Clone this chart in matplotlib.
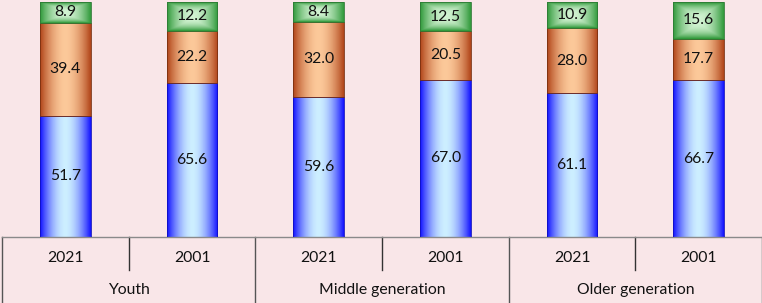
import numpy as np
import matplotlib
matplotlib.use("Agg")
import matplotlib.pyplot as plt
from matplotlib.colors import to_rgb
from matplotlib.transforms import blended_transform_factory

groups = ["Youth", "Middle generation", "Older generation"]
years = ["2021", "2001", "2021", "2001", "2021", "2001"]
blue_vals = [51.7, 65.6, 59.6, 67.0, 61.1, 66.7]
orange_vals = [39.4, 22.2, 32.0, 20.5, 28.0, 17.7]
green_vals = [8.9, 12.2, 8.4, 12.5, 10.9, 15.6]

bg = "#F9E6E8"
series = [
    (blue_vals, "#1414FF", "#CDEFFF", "#1010C0", False),
    (orange_vals, "#B2461A", "#FCC99A", "#7A3010", False),
    (green_vals, "#329A3C", "#D2F3D2", "#2E7A35", True),
]

fig = plt.figure(figsize=(7.62, 3.03), dpi=100, facecolor=bg)
ax = fig.add_axes([2 / 762, 66 / 303, 760 / 762, 235 / 303])
ax.set_facecolor(bg)

x = np.arange(len(years))
bottom = np.zeros(len(years))
width = 0.4
fs = 11.3


def grad_img(edge, center, vertical):
    n = 64
    t = np.abs(np.linspace(-1, 1, n))
    prof = t ** 1.8
    if vertical:
        ty = np.abs(np.linspace(-1, 1, 32))[:, None]
        prof2 = np.maximum(prof[None, :], ty ** 2.5)
    else:
        prof2 = np.tile(prof[None, :], (2, 1))
    e = np.array(to_rgb(edge))
    c = np.array(to_rgb(center))
    return c[None, None, :] * (1 - prof2[..., None]) + e[None, None, :] * prof2[..., None]


for vals, edge, center, line, vert in series:
    bars = ax.bar(x, vals, width, bottom=bottom, facecolor="none",
                  edgecolor=line, linewidth=0.6, zorder=3)
    img = grad_img(edge, center, vert)
    for b, v in zip(bars, vals):
        x0, y0 = b.get_x(), b.get_y()
        w, h = b.get_width(), b.get_height()
        ax.imshow(img, extent=[x0, x0 + w, y0, y0 + h], aspect="auto",
                  interpolation="bilinear", zorder=2)
        ax.text(x0 + w / 2, y0 + h / 2, f"{v:.1f}", ha="center", va="center",
                fontsize=fs, family="Lato", color="#111111", zorder=4)
    bottom = bottom + np.array(vals)

ax.set_xlim(-0.5, len(years) - 0.5)
ax.set_ylim(0, 100)
ax.set_xticks([])
ax.set_yticks([])
for s in ["top", "right", "left"]:
    ax.spines[s].set_visible(False)
ax.spines["bottom"].set_color("#8A8A8A")
ax.spines["bottom"].set_linewidth(1.0)

tr = blended_transform_factory(ax.transData, ax.transAxes)
for i, yl in enumerate(years):
    ax.text(i, -0.089, yl, transform=tr, ha="center", va="center",
            fontsize=fs, family="Lato", color="#111111")
for g, name in enumerate(groups):
    ax.text(2 * g + 0.5, -0.226, name, transform=tr, ha="center", va="center",
            fontsize=fs, family="Lato", color="#111111")
    ax.plot([2 * g + 0.5, 2 * g + 0.5], [0, -0.14], transform=tr, color="#333333",
            lw=1.0, clip_on=False)
for g in range(4):
    xb = 2 * g - 0.5
    ax.plot([xb, xb], [0, -0.3], transform=tr, color="#555555", lw=1.0, clip_on=False)

fig.savefig("out.png", dpi=100, facecolor=bg)
